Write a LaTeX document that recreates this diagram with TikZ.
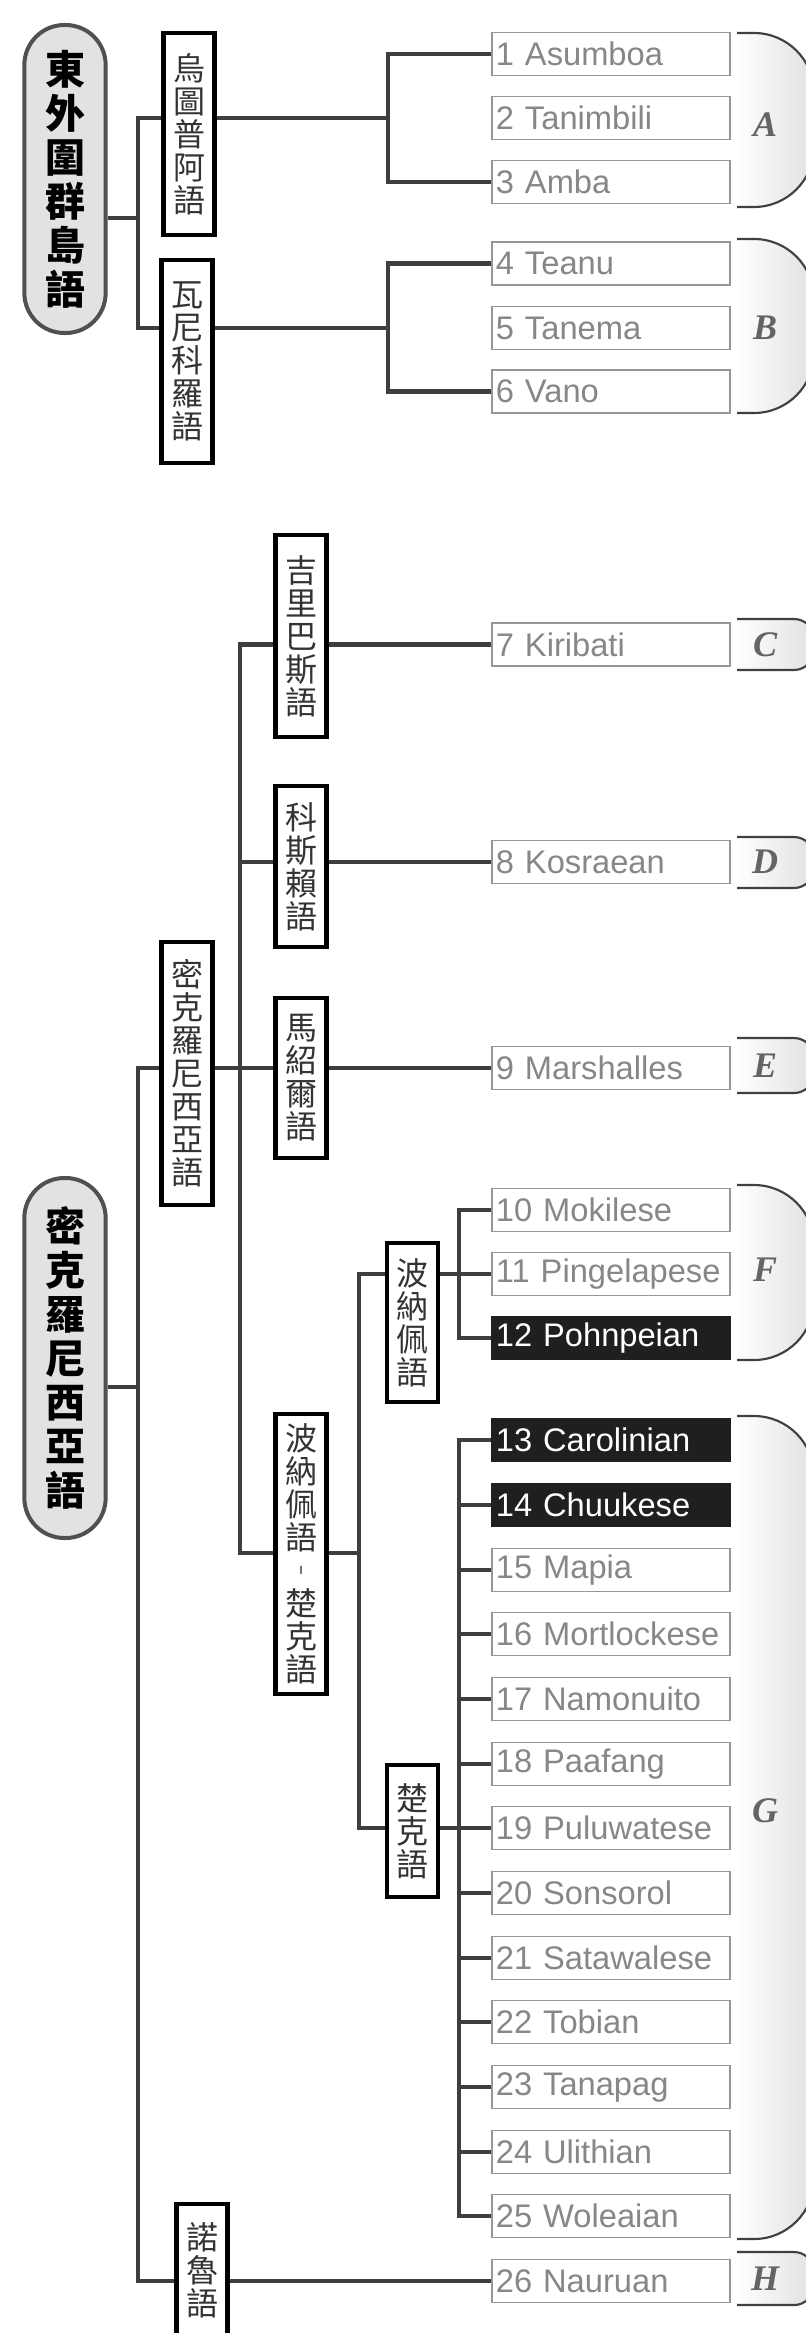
\documentclass[tikz,border=0pt]{standalone}
\usepackage{fontspec}
\setmainfont{Liberation Sans}
\newfontfamily\cjk{Noto Sans CJK TC}
\newfontfamily\lblfont{Liberation Serif}
\definecolor{linkgray}{RGB}{62,62,62}
\definecolor{leafgray}{RGB}{135,135,135}
\definecolor{leafline}{RGB}{150,150,150}
\definecolor{ovalfill}{RGB}{226,226,226}
\definecolor{ovalline}{RGB}{80,80,80}
\definecolor{lblgray}{RGB}{100,100,100}
\tikzset{
  link/.style={draw=linkgray, line width=3.4pt},
  family/.style={draw=ovalline, line width=3pt, fill=ovalfill, rounded corners=30pt, minimum width=61pt, inner sep=0pt, align=center, text=black, font=\cjk\bfseries\fontsize{30pt}{33pt}\selectfont},
  group/.style={draw=black, line width=3.4pt, fill=white, minimum width=38pt, inner sep=0pt, align=center, text=black!80, font=\cjk\fontsize{24pt}{24.75pt}\selectfont},
  leaf/.style={draw=leafline, line width=1.4pt, fill=white, anchor=west, minimum height=32.25pt, text width=172.5pt, inner xsep=3pt, inner ysep=0pt, align=left, text=leafgray, font=\fontsize{24.5pt}{26pt}\selectfont},
  leafdark/.style={leaf, draw=black!88, fill=black!88, text=white},
  brace/.style={draw=black!75, line width=1.6pt, left color=white, right color=black!12},
  tag/.style={text=lblgray, font=\lblfont\bfseries\itshape\fontsize{27pt}{27pt}\selectfont},
}
\begin{document}
\begin{tikzpicture}[x=0.75pt,y=0.75pt,yscale=-1,xscale=1]
  \useasboundingbox (0,0) rectangle (806,2333);
  \clip (0,0) rectangle (806,2333);

  % Brackets and group letters
  \foreach \t/\b/\r/\lab/\ly in {33/207/45/A/125, 239/413/45/B/328, 619/670/15/C/645, 837/888/15/D/862, 1038/1093/15/E/1066, 1185/1360/45/F/1270, 1416/2239/45/G/1811, 2252/2305/15/H/2279}{
    \draw[brace, rounded corners=\r pt] (737,\t) -- (814,\t) -- (814,\b) -- (737,\b);
    \node[tag] (t\lab) at (765,\ly) {\lab};
  }

  % Families
  \node[family, minimum height=231pt] (eo) at (65,179) {東\\外\\圍\\群\\島\\語};
  \node[family, minimum height=270pt] (mo) at (65,1358) {密\\克\\羅\\尼\\西\\亞\\語};

  % Subgroups
  \node[group, minimum height=151.5pt] (wt) at (189,134) {烏\\圖\\普\\阿\\語};
  \node[group, minimum height=152pt] (wn) at (187,361.5) {瓦\\尼\\科\\羅\\語};
  \node[group, minimum height=151.5pt] (kb) at (301,636) {吉\\里\\巴\\斯\\語};
  \node[group, minimum height=121pt] (ks) at (301,866.5) {科\\斯\\賴\\語};
  \node[group, minimum height=120pt] (ms) at (301,1078) {馬\\紹\\爾\\語};
  \node[group, minimum height=197pt] (mk) at (187,1073.5) {密\\克\\羅\\尼\\西\\亞\\語};
  \node[group, minimum height=210pt] (pc) at (301,1554) {波\\納\\佩\\語\\︲\\楚\\克\\語};
  \node[group, minimum height=119pt] (pn) at (412.5,1322.5) {波\\納\\佩\\語};
  \node[group, minimum height=99pt] (ck) at (412.5,1831) {楚\\克\\語};
  \node[group, minimum height=99pt] (nr) at (202,2270) {諾\\魯\\語};

  % Languages
  \foreach \n/\y/\name in {1/54/Asumboa, 2/118/Tanimbili, 3/182/Amba, 4/263.5/Teanu, 5/328/Tanema, 6/391.5/Vano, 7/644.5/Kiribati, 8/862/Kosraean, 9/1068/Marshalles, 10/1210/Mokilese, 11/1274/Pingelapese, 15/1570/Mapia, 16/1634/Mortlockese, 17/1699/Namonuito, 18/1764/Paafang, 19/1828/Puluwatese, 20/1893/Sonsorol, 21/1958/Satawalese, 22/2022/Tobian, 23/2087/Tanapag, 24/2152/Ulithian, 25/2216/Woleaian, 26/2281/Nauruan}
    \node[leaf] (l\n) at (491,\y) {\n\ \name};
  \foreach \n/\y/\name in {12/1338/Pohnpeian, 13/1440/Carolinian, 14/1505/Chuukese}
    \node[leafdark] (l\n) at (491,\y) {\n\ \name};

  % Branch points
  \coordinate (b0) at (138,218);
  \coordinate (b1) at (388,118);
  \coordinate (b2) at (388,328);
  \coordinate (b3) at (138,1387);
  \coordinate (b4) at (240,1068);
  \coordinate (b5) at (359,1553);
  \coordinate (b6) at (459,1274);
  \coordinate (b7) at (459,1828);

  % Connectors, upper tree
  \draw[link] (eo.east |- b0) -- (b0);
  \draw[link] (wt.west |- l2) -| (b0) |- (wn.west |- l5);
  \draw[link] (wt.east |- l2) -- (b1);
  \draw[link] (l1.west) -| (b1) |- (l3.west);
  \draw[link] (wn.east |- l5) -- (b2);
  \draw[link] (l4.west) -| (b2) |- (l6.west);

  % Connectors, lower tree
  \draw[link] (mo.east |- b3) -- (b3);
  \draw[link] (mk.west |- l9) -| (b3) |- (nr.west |- l26);
  \draw[link] (nr.east |- l26) -- (l26.west);
  \draw[link] (mk.east |- l9) -- (ms.west |- l9);
  \draw[link] (ms.east |- l9) -- (l9.west);
  \draw[link] (kb.west |- l7) -| (b4) |- (pc.west |- b5);
  \draw[link] (ks.west |- l8) -- (b4 |- l8);
  \draw[link] (kb.east |- l7) -- (l7.west);
  \draw[link] (ks.east |- l8) -- (l8.west);
  \draw[link] (pc.east |- b5) -- (b5);
  \draw[link] (pn.west |- l11) -| (b5) |- (ck.west |- l19);
  \draw[link] (pn.east |- l11) -- (l11.west);
  \draw[link] (l10.west) -| (b6) |- (l12.west);
  \draw[link] (ck.east |- l19) -- (l19.west);
  \draw[link] (l13.west) -| (b7) |- (l25.west);
  \foreach \n in {14,...,24}
    \draw[link] (b7 |- l\n) -- (l\n.west);
\end{tikzpicture}
\end{document}
